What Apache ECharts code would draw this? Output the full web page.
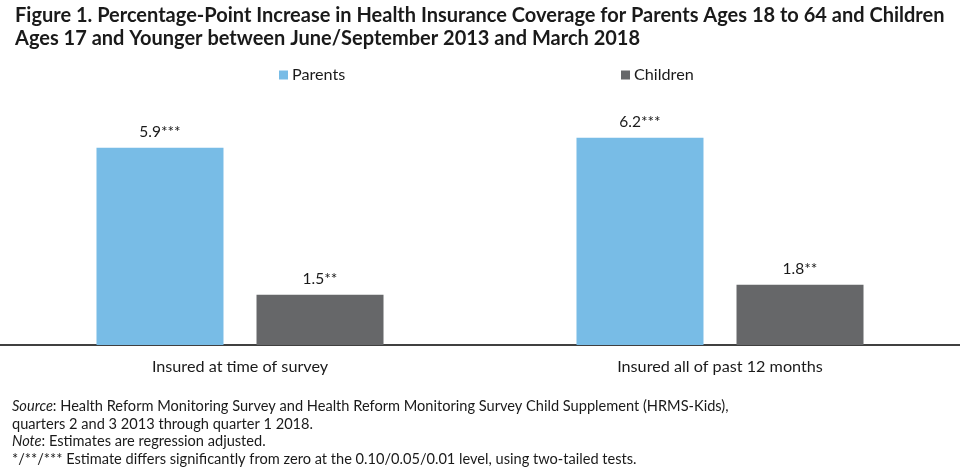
<!DOCTYPE html>
<html>
<head>
<meta charset="utf-8">
<script src="https://cdn.jsdelivr.net/npm/echarts@6/dist/echarts.min.js"></script>
<style>html,body{margin:0;padding:0;background:#fff}#c{width:960px;height:468px}</style>
</head>
<body>
<div id="c"></div>
<script>
const categories = ['Insured at time of survey', 'Insured all of past 12 months'];
const parentsValues = [5.9, 6.2];
const childrenValues = [1.5, 1.8];
const parentsLabels = ['5.9***', '6.2***'];
const childrenLabels = ['1.5**', '1.8**'];
const seriesNames = ['Parents', 'Children'];

const FONT = 'Lato';
const chart = echarts.init(document.getElementById('c'), null, {renderer: 'canvas'});
chart.setOption({
  backgroundColor: '#ffffff',
  animation: false,
  textStyle: {fontFamily: FONT},
  title: {
    text: 'Figure 1. Percentage-Point Increase in Health Insurance Coverage for Parents Ages 18 to 64 and Children\nAges 17 and Younger between June/September 2013 and March 2018',
    left: 10, top: -1,
    textStyle: {fontFamily: FONT, fontSize: 20, fontWeight: 'bold', color: '#1a1a1a', lineHeight: 23}
  },
  legend: [
    {data: [seriesNames[0]], left: 274, top: 62, itemWidth: 9, itemHeight: 9, icon: 'rect',
     textStyle: {fontFamily: FONT, fontSize: 16.2, color: '#1a1a1a', padding: [0, 0, 0, -1]}},
    {data: [seriesNames[1]], left: 616, top: 62, itemWidth: 9, itemHeight: 9, icon: 'rect',
     textStyle: {fontFamily: FONT, fontSize: 16.2, color: '#1a1a1a', padding: [0, 0, 0, -1]}}
  ],
  grid: {left: 0, right: 0, top: 111, height: 234, containLabel: false},
  xAxis: {
    type: 'category', data: categories,
    axisLine: {lineStyle: {color: '#000', width: 1.5}},
    axisTick: {show: false},
    axisLabel: {fontFamily: FONT, fontSize: 16.2, color: '#1a1a1a', margin: 14}
  },
  yAxis: {type: 'value', min: 0, max: 7, show: false, splitLine: {show: false}},
  series: [
    {name: seriesNames[0], type: 'bar', data: parentsValues, barWidth: 127, barGap: '26%',
     itemStyle: {color: '#78BCE6'},
     label: {show: true, position: 'top', distance: 8, fontFamily: FONT, fontSize: 15.5, color: '#1a1a1a',
             formatter: p => parentsLabels[p.dataIndex]}},
    {name: seriesNames[1], type: 'bar', data: childrenValues, barWidth: 127,
     itemStyle: {color: '#666769'},
     label: {show: true, position: 'top', distance: 8, fontFamily: FONT, fontSize: 15.5, color: '#1a1a1a',
             formatter: p => childrenLabels[p.dataIndex]}}
  ],
  graphic: [{
    type: 'text', left: 12, top: 398,
    style: {
      text: '{i|Source}: Health Reform Monitoring Survey and Health Reform Monitoring Survey Child Supplement (HRMS-Kids),\nquarters 2 and 3 2013 through quarter 1 2018.\n{i|Note}: Estimates are regression adjusted.\n*/**/*** Estimate differs significantly from zero at the 0.10/0.05/0.01 level, using two-tailed tests.',
      font: '14.6px Lato', fill: '#1a1a1a', lineHeight: 17.4,
      rich: {i: {fontStyle: 'italic', fontFamily: FONT, fontSize: 14.6, fill: '#1a1a1a'}}
    }
  }]
});
</script>
</body>
</html>
